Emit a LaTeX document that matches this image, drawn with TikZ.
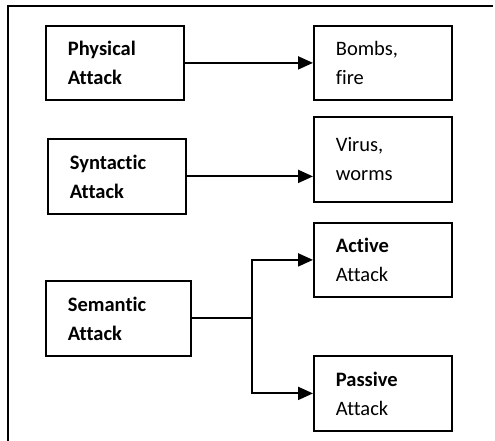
\documentclass[tikz,border=0pt]{standalone}
\usepackage{fontspec}
\setmainfont{Carlito}[Ligatures=NoCommon]
\usetikzlibrary{arrows.meta}

\begin{document}
\begin{tikzpicture}[x=1pt,y=-1pt,
    attackbox/.style={draw, line width=1.8pt, anchor=north west, align=left,
      inner xsep=22pt, inner ysep=0pt, minimum height=74pt, text width=94pt,
      font=\fontsize{20.5}{29}\selectfont},
    conn/.style={line width=2pt, -{Triangle[length=15pt,width=13pt]}}]
  \useasboundingbox (0,0) rectangle (495,441);
  % open frame: top and left side only
  \draw[line width=1.6pt] (493,6) -- (8,6) -- (8,441);
  % left column
  \node[attackbox] (physical) at (45,25) {\textbf{Physical}\\\textbf{Attack}};
  \node[attackbox, minimum height=75pt] (syntactic) at (47,138) {\textbf{Syntactic}\\\textbf{Attack}};
  \node[attackbox, minimum height=75pt, text width=101pt] (semantic) at (45,280) {\textbf{Semantic}\\\textbf{Attack}};
  % right column
  \node[attackbox] (bombs) at (313,25) {Bombs,\\fire};
  \node[attackbox, minimum height=85pt] (virus) at (313,116) {Virus,\\worms\\[10pt]};
  \node[attackbox] (active) at (313,222) {\textbf{Active}\\Attack};
  \node[attackbox, minimum height=75pt] (passive) at (313,355) {\textbf{Passive}\\Attack};
  % connectors
  \draw[conn] (physical.east) -- (bombs.west);
  \draw[conn] (syntactic.east) -- (syntactic.east -| virus.west);
  \coordinate (fork) at (252,0);
  \draw[line width=2pt] (semantic.east) -- (semantic.east -| fork);
  \draw[conn] (semantic.east -| fork) |- (active.west);
  \draw[conn] (semantic.east -| fork) |- (passive.west);
\end{tikzpicture}
\end{document}
